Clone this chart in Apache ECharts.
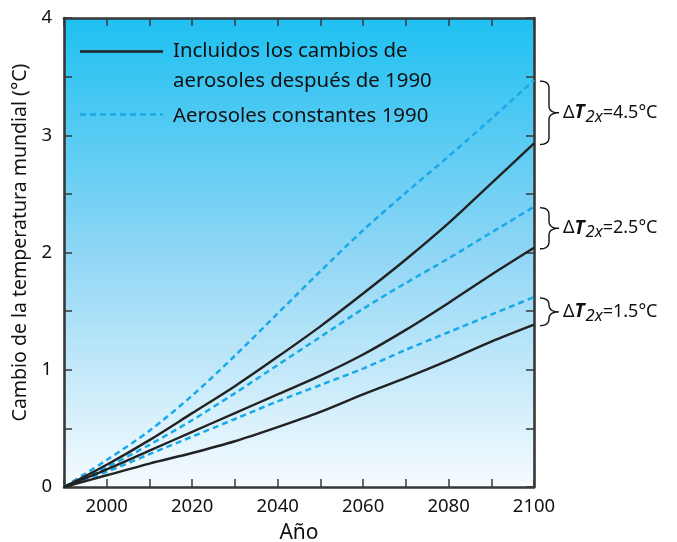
<!DOCTYPE html>
<html><head><meta charset="utf-8">
<script src="https://cdn.jsdelivr.net/npm/echarts@6/dist/echarts.min.js"></script>
<style>html,body{margin:0;padding:0;background:#fff}#c{width:677px;height:542px}</style>
</head><body><div id="c"></div>
<script>
// ---- data ----
const years        = [1990, 2000, 2010, 2020, 2030, 2040, 2050, 2060, 2070, 2080, 2090, 2100];
const hiConstant   = [0, 0.23, 0.48, 0.78, 1.12, 1.48, 1.84, 2.19, 2.51, 2.82, 3.14, 3.47];
const hiAerosol    = [0, 0.19, 0.40, 0.63, 0.86, 1.11, 1.37, 1.65, 1.94, 2.25, 2.59, 2.93];
const midConstant  = [0, 0.17, 0.36, 0.57, 0.80, 1.04, 1.28, 1.52, 1.74, 1.95, 2.17, 2.39];
const midAerosol   = [0, 0.15, 0.31, 0.47, 0.63, 0.79, 0.95, 1.13, 1.34, 1.57, 1.81, 2.04];
const lowConstant  = [0, 0.13, 0.28, 0.43, 0.58, 0.73, 0.87, 1.01, 1.17, 1.32, 1.47, 1.62];
const lowAerosol   = [0, 0.10, 0.20, 0.29, 0.39, 0.51, 0.64, 0.79, 0.93, 1.08, 1.24, 1.385];
const xLabelYears  = [2000, 2020, 2040, 2060, 2080, 2100];
const yLabelValues = [0, 1, 2, 3, 4];
const legendSolid  = ['Incluidos los cambios de', 'aerosoles después de 1990'];
const legendDashed = 'Aerosoles constantes 1990';
const sensitivities = ['4.5', '2.5', '1.5'];
const xTitle = 'Año';
const yTitle = 'Cambio de la temperatura mundial (°C)';

const FONT = '"Noto Sans", "Liberation Sans", Arial, sans-serif';
const AXIS = '#383838';
const BLUE = '#1aa9e8';
const BLACK = '#222222';

const chart = echarts.init(document.getElementById('c'), null, {renderer: 'canvas'});
const pairs = arr => years.map((y, i) => [y, arr[i]]);
function line(name, arr, dashed) {
  return {
    name, type: 'line', data: pairs(arr), showSymbol: false, symbol: 'none',
    smooth: 0.3, silent: true, z: dashed ? 3 : 4,
    lineStyle: dashed ? {color: BLUE, width: 2.5, type: [6, 4]} : {color: BLACK, width: 2.4}
  };
}
const xCommon = {
  type: 'value', min: 1990, max: 2100, interval: 10,
  axisLine: {show: true, onZero: false, lineStyle: {color: AXIS, width: 2.6}},
  axisTick: {show: true, inside: true, length: 8, lineStyle: {color: AXIS, width: 1.5}},
  splitLine: {show: false}
};
const yCommon = {
  type: 'value', min: 0, max: 4, interval: 0.5,
  axisLine: {show: true, onZero: false, lineStyle: {color: AXIS, width: 2.6}},
  axisTick: {show: true, inside: true, length: 8, lineStyle: {color: AXIS, width: 1.5}},
  splitLine: {show: false}
};
chart.setOption({
  animation: false,
  grid: {
    left: 64, right: 143, top: 18, bottom: 55, show: true, borderWidth: 0,
    containLabel: false, outerBoundsMode: 'none',
    backgroundColor: {type: 'linear', x: 0, y: 0, x2: 0, y2: 1,
      colorStops: [{offset: 0, color: '#1ec0f1'}, {offset: 0.5, color: '#8fd6f5'}, {offset: 1, color: '#f6fbfe'}]}
  },
  xAxis: [
    Object.assign({}, xCommon, {
      position: 'bottom',
      axisLabel: {show: true, margin: 10, fontSize: 18.5, color: '#111', fontFamily: FONT,
        formatter: v => xLabelYears.includes(v) ? String(v) : ''},
      name: xTitle, nameLocation: 'middle', nameGap: 36,
      nameTextStyle: {fontSize: 21, color: '#111', fontFamily: FONT}
    }),
    Object.assign({}, xCommon, {position: 'top', axisLabel: {show: false}})
  ],
  yAxis: [
    Object.assign({}, yCommon, {
      position: 'left',
      axisLabel: {show: true, margin: 12, fontSize: 18.5, color: '#111', fontFamily: FONT,
        formatter: v => yLabelValues.includes(v) ? String(v) : ''},
      name: yTitle, nameLocation: 'middle', nameGap: 31,
      nameTextStyle: {fontSize: 19.5, color: '#111', fontFamily: FONT, padding: [0, 0, 0, 20]}
    }),
    Object.assign({}, yCommon, {position: 'right', axisLabel: {show: false}})
  ],
  series: [
    line('hiConst', hiConstant, true),
    line('midConst', midConstant, true),
    line('lowConst', lowConstant, true),
    line('hiAer', hiAerosol, false),
    line('midAer', midAerosol, false),
    line('lowAer', lowAerosol, false)
  ]
});

// ---- annotations ----
const ctx = document.createElement('canvas').getContext('2d');
function tw(text, font) { ctx.font = font; return ctx.measureText(text).width; }
function quad(p0, p1, p2, n) {
  const out = [];
  for (let i = 0; i <= n; i++) {
    const t = i / n, u = 1 - t;
    out.push([u * u * p0[0] + 2 * u * t * p1[0] + t * t * p2[0], u * u * p0[1] + 2 * u * t * p1[1] + t * t * p2[1]]);
  }
  return out;
}

const elements = [];
// legend
elements.push({type: 'line', shape: {x1: 80, y1: 51.5, x2: 163, y2: 51.5}, style: {stroke: BLACK, lineWidth: 2.5}, z: 10});
elements.push({type: 'line', shape: {x1: 80, y1: 114.5, x2: 163, y2: 114.5}, style: {stroke: BLUE, lineWidth: 2.5, lineDash: [6, 4]}, z: 10});
const LF = 20.4;
[[legendSolid[0], 51], [legendSolid[1], 81], [legendDashed, 116]].forEach(([t, y]) => {
  elements.push({type: 'text', x: 173, y: y, z: 10,
    style: {text: t, fontSize: LF, fontFamily: FONT, fill: '#111', textVerticalAlign: 'middle', verticalAlign: 'middle'}});
});

// braces
const ends = [[hiConstant, hiAerosol], [midConstant, midAerosol], [lowConstant, lowAerosol]];
const last = years.length - 1;
ends.forEach(([c, a], k) => {
  const p1 = chart.convertToPixel({xAxisIndex: 0, yAxisIndex: 0}, [years[last], c[last]]);
  const p2 = chart.convertToPixel({xAxisIndex: 0, yAxisIndex: 0}, [years[last], a[last]]);
  const x0 = p1[0] + 6, y1 = p1[1] + 1, y2 = p2[1] + 1;
  const xm = x0 + 9, xt = x0 + 19, ym = (y1 + y2) / 2, r = 7;
  let pts = [];
  pts = pts.concat(quad([x0, y1], [xm, y1], [xm, y1 + r], 8));
  pts = pts.concat(quad([xm, ym - r], [xm, ym], [xt, ym], 8));
  pts = pts.concat(quad([xt, ym], [xm, ym], [xm, ym + r], 8));
  pts = pts.concat(quad([xm, y2 - r], [xm, y2], [x0, y2], 8));
  elements.push({type: 'polyline', shape: {points: pts}, style: {stroke: '#111', lineWidth: 1.4, fill: null}, z: 10});
  // label  ΔT2x=..°C
  let x = xt + 4;
  const yc = ym;
  const parts = [
    {t: 'Δ', size: 18, style: 'normal', weight: 'normal', dy: 0},
    {t: 'T', size: 19, style: 'italic', weight: 'bold', dy: 0},
    {t: '2x', size: 16.5, style: 'italic', weight: 'normal', dy: 4},
    {t: '=' + sensitivities[k] + '°C', size: 18, style: 'normal', weight: 'normal', dy: 0}
  ];
  parts.forEach(p => {
    const f = `${p.style} ${p.weight} ${p.size}px ${FONT}`;
    elements.push({type: 'text', x: x, y: yc + p.dy, z: 10,
      style: {text: p.t, fontSize: p.size, fontStyle: p.style, fontWeight: p.weight, fontFamily: FONT,
        fill: '#111', verticalAlign: 'middle', textVerticalAlign: 'middle'}});
    x += tw(p.t, f) + (p.t === 'T' ? 1 : 0);
  });
});
chart.setOption({graphic: {elements}});
</script></body></html>
